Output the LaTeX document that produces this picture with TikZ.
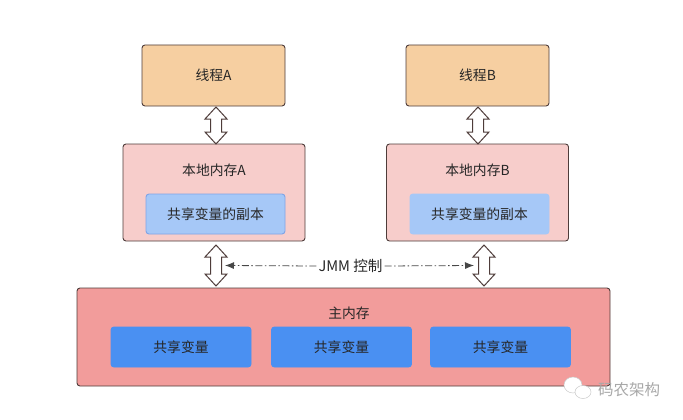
\documentclass[tikz,border=0pt]{standalone}
\usepackage{fontspec}
\setmainfont{Noto Sans CJK SC}
\usetikzlibrary{calc,arrows.meta}
\definecolor{threadbg}{HTML}{F6CFA1}
\definecolor{localbg}{HTML}{F7CDCB}
\definecolor{copybg}{HTML}{A6C8F7}
\definecolor{copyline}{HTML}{7FA4E6}
\definecolor{mainbg}{HTML}{F29C9B}
\definecolor{sharedbg}{HTML}{4A90F2}
\definecolor{border}{HTML}{4E3C3A}
\definecolor{ink}{HTML}{262626}
\definecolor{mark}{HTML}{A8A8A8}
\tikzset{
  box/.style={draw=border, line width=0.9pt, rounded corners=3pt, outer sep=0pt, inner sep=0pt, text=ink, font=\fontsize{13.8}{16}\selectfont},
  thread/.style={box, fill=threadbg, minimum width=143pt, minimum height=61pt},
  local/.style={box, fill=localbg, minimum width=182pt, minimum height=97pt},
  copybox/.style={box, draw=copyline, fill=copybg, minimum width=139pt, minimum height=40pt},
  sharedbox/.style={box, draw=sharedbg, fill=sharedbg, minimum width=140pt, minimum height=40pt},
  title/.style={text=ink, inner sep=0pt, font=\fontsize{13.8}{16}\selectfont},
  hollow/.style={draw=border, fill=white, line width=1pt, to path={
    let \p1=(\tikztostart), \p2=(\tikztotarget) in
    (\x1,\y1) -- (\x1+11pt,\y1-12pt) -- (\x1+5.5pt,\y1-12pt) -- (\x1+5.5pt,\y2+12pt)
    -- (\x1+11pt,\y2+12pt) -- (\x1,\y2) -- (\x1-11pt,\y2+12pt) -- (\x1-5.5pt,\y2+12pt)
    -- (\x1-5.5pt,\y1-12pt) -- (\x1-11pt,\y1-12pt) -- cycle}},
  jmmline/.style={draw=ink!85, line width=0.8pt, dash pattern=on 7pt off 2.5pt on 1.5pt off 2.5pt, -{Latex[length=9pt,width=7pt]}},
}
\begin{document}
\begin{tikzpicture}[x=1pt,y=-1pt]
\useasboundingbox (0,0) rectangle (683,420);
\node[thread] (threadA) at (213.5,75.5) {线程A};
\node[thread] (threadB) at (477.5,75.5) {线程B};
\node[local] (localA) at (214,192.5) {};
\node[local] (localB) at (477.5,192.5) {};
\node[title] (titleA) at (214,170) {本地内存A};
\node[title] (titleB) at (477.5,170) {本地内存B};
\node[copybox] (copyA) at (215.5,214) {共享变量的副本};
\node[copybox, draw=copybg] (copyB) at (479.5,214) {共享变量的副本};
\node[box, fill=mainbg, draw=border, minimum width=533pt, minimum height=98pt] (mainmem) at (343.5,337) {};
\node[title] (titlemain) at (349,313) {主内存};
\foreach \i/\xc in {1/181,2/341.5,3/500.5}{
  \node[sharedbox] (shared\i) at (\xc,347) {共享变量};
}
% hollow arrows between the levels
\coordinate (upA) at (216,107);
\coordinate (upB) at (478,107);
\coordinate (lowA) at (216,245);
\coordinate (lowB) at (484,245);
\draw[hollow] (upA) to (upA |- localA.north);
\draw[hollow] (upB) to (upB |- localB.north);
\draw[hollow] (lowA) to ($(lowA |- mainmem.north)+(0,-2)$);
\draw[hollow] (lowB) to ($(lowB |- mainmem.north)+(0,-2)$);
\node[title, font=\fontsize{14.6}{16}\selectfont] (jmm) at (350.5,266) {JMM 控制};
\coordinate (jmmL) at (225,265.5);
\coordinate (jmmR) at (474,265.5);
\draw[jmmline] (jmm.west) ++(-2,0) -- (jmmL);
\draw[jmmline] (jmm.east) ++(2,0) -- (jmmR);
% watermark
\draw[draw=mark!60, fill=white, line width=0.5pt] (573,385) ellipse (9 and 8);
\draw[draw=mark!60, fill=white, line width=0.5pt] (583,392) ellipse (8 and 6.5);
\node[text=mark, inner sep=0pt, font=\fontsize{15.5}{18}\selectfont] (markname) at (629,390) {码农架构};
\end{tikzpicture}
\end{document}
